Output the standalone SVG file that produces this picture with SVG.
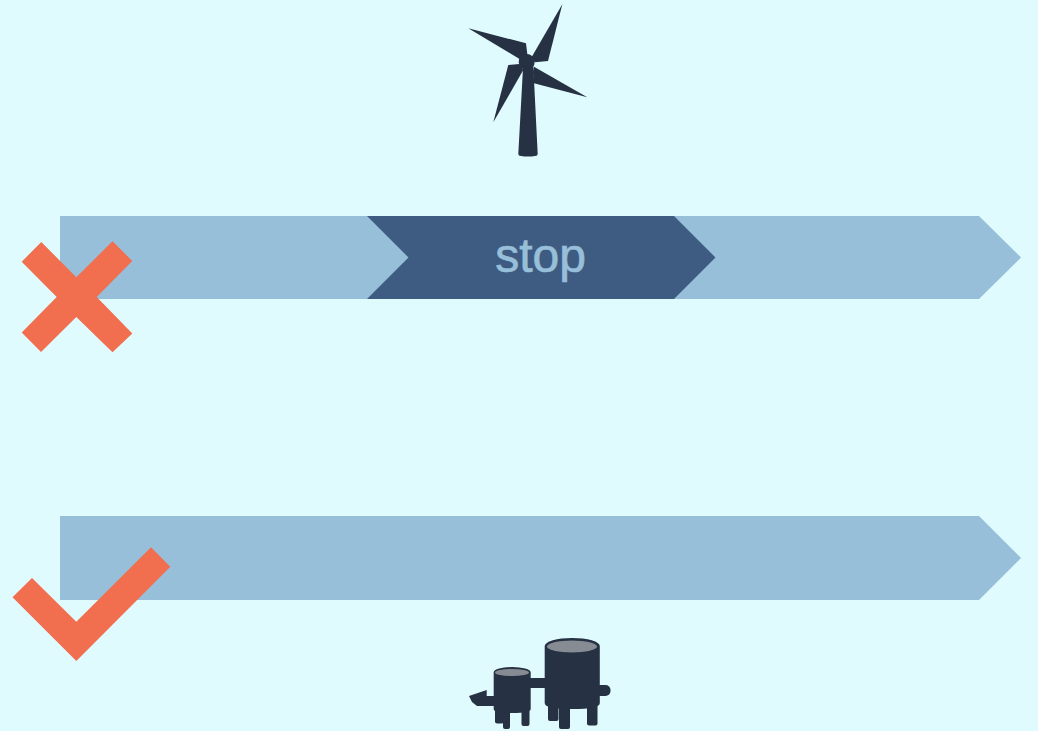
<svg xmlns="http://www.w3.org/2000/svg" width="1038" height="731" viewBox="0 0 1038 731">
<style>
.bar{fill:#98bfd9}
.dark{fill:#3e5c82}
.mark{fill:#f16e4f}
.ink{fill:#263143}
.lid{fill:#878b94}
text{font-family:"Liberation Sans",Arial,sans-serif;font-size:48px;fill:#98bfd9;stroke:#98bfd9;stroke-width:.7px;text-anchor:middle}
</style>
<rect width="1038" height="731" fill="#dffbfd"/>
<g id="turbine" class="ink">
<polygon points="562.3,4.300 548,61 535,62.300 531.700,57"/>
<polygon points="468.300,28.300 526,43.300 527.700,56.700 520,59.300"/>
<polygon points="493.300,122.300 508.300,65 519.300,64 523.300,70"/>
<polygon points="587.300,97.300 534,83.300 533,72 534,66.700"/>
<circle cx="526.700" cy="62" r="8"/>
<path d="M523,68 L518.300,154 Q518.300,156 521,156 Q528,157 535,156 Q537.700,156 537.700,154 L533.300,66 Z"/>
</g>
<g id="bar-stop">
<polygon class="bar" points="60,216 979,216 1021,257.500 979,299 60,299"/>
<polygon class="dark" points="367,216 674,216 715.500,257.500 674,299 367,299 408.500,257.500"/>
<text x="540.500" y="272">stop</text>
</g>
<g id="cross">
<polygon class="mark" points="41.300,242 76.300,277.300 112.500,241.300 132.300,261 96.700,297 132.300,333.500 112.500,352.300 76.300,317 41,352 21.700,332.500 56.700,297 21.700,261.700"/>
</g>
<g id="bar-go">
<polygon class="bar" points="60,516 979,516 1021,558 979,600 60,600"/>
</g>
<g id="check">
<polygon class="mark" points="12.500,597.300 32,578 76.300,621.700 151,547.300 170.300,566.700 76.300,661"/>
</g>
<g id="plant">
<g class="ink">
<rect x="525" y="678" width="24" height="10"/>
<rect x="595" y="685" width="15.500" height="11" rx="5"/>
<rect x="548" y="700" width="10.500" height="21" rx="2"/>
<rect x="559" y="700" width="11" height="29" rx="2"/>
<rect x="587" y="700" width="10.500" height="25.500" rx="2"/>
<path d="M544.700,646 A27.300,8 0 0 1 599.800,646 L599.800,703 Q599.800,709 572,709 Q544.700,709 544.700,703 Z"/>
<polygon points="469,696 486.700,690 486.700,696 497,696 497,706 477,706 472,702"/>
<rect x="495" y="705" width="9" height="18.500" rx="2"/>
<rect x="503" y="705" width="7" height="24" rx="2"/>
<rect x="521.500" y="705" width="8" height="21" rx="2"/>
<path d="M493.700,672.500 A18.500,5.500 0 0 1 530.700,672.500 L530.700,709 Q530.700,713 512,713 Q493.700,713 493.700,709 Z"/>
</g>
<ellipse class="lid" cx="572" cy="646.500" rx="25" ry="6"/>
<ellipse class="lid" cx="512" cy="672.500" rx="17" ry="3.600"/>
</g>
</svg>
